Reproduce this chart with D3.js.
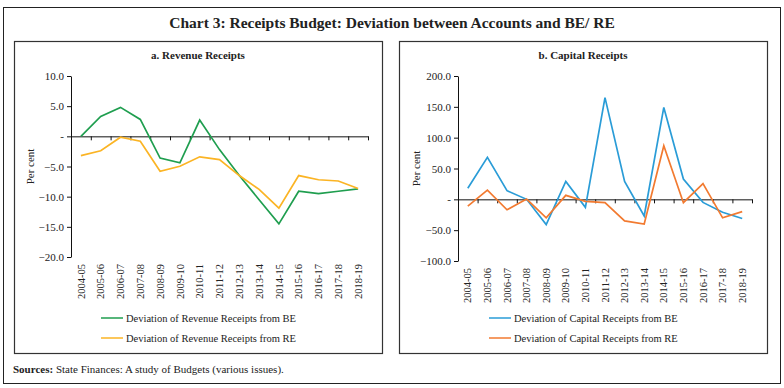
<!DOCTYPE html>
<html>
<head>
<meta charset="utf-8">
<script src="https://cdn.jsdelivr.net/npm/d3@7"></script>
<style>
  body { margin: 0; background: #fff; }
  text { font-family: "Liberation Serif", "DejaVu Serif", serif; fill: #222; }
</style>
</head>
<body>
<div id="chart"></div>
<script>
// years on the x axis
var years = ["2004-05", "2005-06", "2006-07", "2007-08", "2008-09", "2009-10", "2010-11", "2011-12",
  "2012-13", "2013-14", "2014-15", "2015-16", "2016-17", "2017-18", "2018-19"];

// a. Revenue Receipts (per cent)
var revenueBE = [0.0, 3.3, 4.8, 2.8, -3.6, -4.4, 2.7, -2.2, -6.5, -10.5, -14.5, -9.1, -9.5, -9.1, -8.7];
var revenueRE = [-3.2, -2.4, -0.15, -0.8, -5.8, -4.95, -3.4, -3.85, -6.5, -8.8, -11.9, -6.5, -7.2, -7.4, -8.65];
var revenueTicks = [10, 5, 0, -5, -10, -15, -20];

// b. Capital Receipts (per cent)
var capitalBE = [18, 68, 14, 0, -41, 29, -13, 165, 29, -27, 149, 33, -5, -21, -31];
var capitalRE = [-11, 15, -17, 0.5, -30, 6.5, -3.3, -5.4, -35, -40, 87, -5.4, 25.5, -30, -20];
var capitalTicks = [200, 150, 100, 50, 0, -50, -100];

var width = 784, height = 388;

var svg = d3.select("#chart")
  .append("svg")
  .attr("width", width)
  .attr("height", height);

svg.append("rect")
  .attr("width", width).attr("height", height)
  .attr("fill", "#fff");

// outer frame
svg.append("rect")
  .attr("x", 3.5).attr("y", 7.5)
  .attr("width", 777).attr("height", 376)
  .attr("fill", "none")
  .attr("stroke", "#222")
  .attr("stroke-width", 1);

svg.append("text")
  .attr("x", 392).attr("y", 28)
  .attr("text-anchor", "middle")
  .style("font-size", "15.5px")
  .style("font-weight", "bold")
  .text("Chart 3: Receipts Budget: Deviation between Accounts and BE/ RE");

// sources line
var src = svg.append("text")
  .attr("x", 13).attr("y", 373)
  .style("font-size", "11px");
src.append("tspan").style("font-weight", "bold").text("Sources:");
src.append("tspan").text(" State Finances: A study of Budgets (various issues).");

function drawPanel(opt) {
  var g = svg.append("g");

  // panel frame
  g.append("rect")
    .attr("x", opt.box[0] + 0.5).attr("y", 41.5)
    .attr("width", opt.box[1] - opt.box[0]).attr("height", 312)
    .attr("fill", "none")
    .attr("stroke", "#333")
    .attr("stroke-width", 1.2);

  g.append("text")
    .attr("x", (opt.box[0] + opt.box[1]) / 2).attr("y", 59)
    .attr("text-anchor", "middle")
    .style("font-size", "11px")
    .style("font-weight", "bold")
    .text(opt.title);

  var x = d3.scaleBand()
    .domain(years)
    .range([opt.x0, opt.x1]);

  var xEdge = d3.scaleLinear()
    .domain([0, years.length])
    .range([opt.x0, opt.x1]);

  var y = d3.scaleLinear()
    .domain([d3.min(opt.ticks), d3.max(opt.ticks)])
    .range([opt.yBottom, opt.yTop]);

  // y axis
  var yAxis = g.append("g")
    .attr("transform", "translate(" + opt.x0 + ",0)")
    .call(d3.axisLeft(y)
      .tickValues(opt.ticks)
      .tickSize(4)
      .tickSizeOuter(0)
      .tickFormat(function (d) { return d === 0 ? "-" : d3.format(".1f")(d); }));
  yAxis.selectAll("text")
    .style("font-family", "Liberation Serif, serif")
    .style("font-size", "11px")
    .attr("fill", "#222");
  yAxis.selectAll("line, path").attr("stroke", "#111");

  // zero line with boundary ticks
  var xAxis = g.append("g")
    .attr("transform", "translate(0," + y(0) + ")")
    .call(d3.axisBottom(xEdge)
      .tickValues(d3.range(0, years.length + 1))
      .tickSize(4)
      .tickSizeOuter(0)
      .tickFormat(""));
  xAxis.selectAll("line, path").attr("stroke", "#111");

  // category labels at the bottom
  var labels = g.append("g")
    .attr("transform", "translate(0," + (opt.yBottom + 7) + ")")
    .call(d3.axisBottom(x).tickSize(0));
  labels.select(".domain").remove();
  labels.selectAll("text")
    .style("font-family", "Liberation Serif, serif")
    .style("font-size", "10.5px")
    .attr("fill", "#222")
    .attr("transform", "rotate(-90)")
    .attr("text-anchor", "end")
    .attr("x", 0)
    .attr("y", 0)
    .attr("dy", "0.35em");

  // y label
  g.append("text")
    .attr("transform", "translate(" + opt.labelX + "," + ((opt.yTop + opt.yBottom) / 2) + ") rotate(-90)")
    .attr("text-anchor", "middle")
    .style("font-size", "11px")
    .text("Per cent");

  var line = d3.line()
    .x(function (d, i) { return x(years[i]) + x.bandwidth() / 2; })
    .y(function (d) { return y(d); });

  opt.series.forEach(function (s) {
    g.append("path")
      .datum(s.values)
      .attr("d", line)
      .attr("fill", "none")
      .attr("stroke", s.color)
      .attr("stroke-width", 1.7);
  });

  // legend
  opt.series.forEach(function (s, i) {
    var ly = 318 + i * 20;
    g.append("line")
      .attr("x1", opt.legendX).attr("x2", opt.legendX + 22)
      .attr("y1", ly).attr("y2", ly)
      .attr("stroke", s.color)
      .attr("stroke-width", 1.5);
    g.append("text")
      .attr("x", opt.legendX + 25).attr("y", ly)
      .attr("dy", "0.35em")
      .style("font-size", "10.5px")
      .text(s.label);
  });
}

drawPanel({
  title: "a. Revenue Receipts",
  box: [14, 382],
  x0: 71, x1: 368,
  yTop: 76, yBottom: 257,
  ticks: revenueTicks,
  labelX: 34,
  legendX: 101,
  series: [
    { label: "Deviation of Revenue Receipts from BE", values: revenueBE, color: "#1f9e4f" },
    { label: "Deviation of Revenue Receipts from RE", values: revenueRE, color: "#fbb424" }
  ]
});

drawPanel({
  title: "b. Capital Receipts",
  box: [399, 767],
  x0: 458, x1: 752,
  yTop: 76, yBottom: 261,
  ticks: capitalTicks,
  labelX: 420,
  legendX: 489,
  series: [
    { label: "Deviation of Capital Receipts from BE", values: capitalBE, color: "#2a9cd7" },
    { label: "Deviation of Capital Receipts from RE", values: capitalRE, color: "#f27a30" }
  ]
});
</script>
</body>
</html>
